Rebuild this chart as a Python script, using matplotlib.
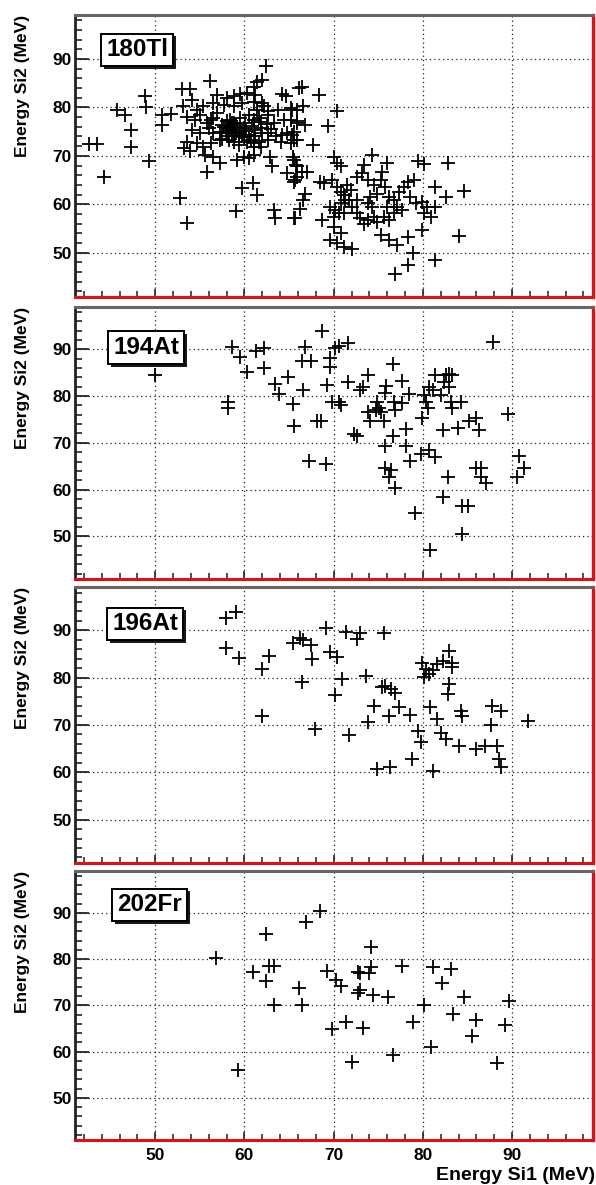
import matplotlib
matplotlib.use("Agg")
import matplotlib.pyplot as plt
import matplotlib.patheffects as pe
import numpy as np

plt.rcParams['font.family'] = ['Liberation Sans', 'DejaVu Sans']

# ---------------- data ----------------
panel_labels = ["180Tl", "194At", "196At", "202Fr"]
x_major = [50, 60, 70, 80, 90]
y_major = [50, 60, 70, 80, 90]
x_title = "Energy Si1 (MeV)"
y_title = "Energy Si2 (MeV)"

tl180_pts = [
    (42.6,72.5),(43.5,72.5),(44.2,65.6),(45.7,79.5),(46.6,78.5),(47.3,75.4),(47.3,71.9),(48.8,82.3),
    (49.0,80.1),(49.3,68.9),(50.7,78.5),(51.8,78.6),(50.7,76.4),(52.8,61.2),(53.6,56.2),(55.8,66.7),
    (62.4,88.6),(56.1,85.4),(53.0,83.8),(53.9,83.8),(61.4,85.2),(61.1,84.2),(62.0,85.7),(66.1,84.0),
    (59.5,82.8),(60.3,83.0),(56.9,82.6),(58.0,81.9),(61.2,82.6),(64.2,82.7),(64.6,82.3),(54.1,81.6),(58.8,82.3),
    (53.1,80.3),(54.7,79.5),(55.4,80.2),(56.5,80.9),(57.7,80.5),(58.8,80.2),(59.7,80.9),(61.1,81.2),(62.2,80.2),
    (62.6,79.2),(63.7,79.5),(65.2,79.8),(65.9,79.5),
    (53.5,78.1),(54.5,77.4),(55.0,78.5),(55.8,76.7),(56.5,77.8),(57.5,76.4),(58.0,77.1),(58.6,76.7),(59.2,76.0),
    (60.1,76.7),(61.1,77.4),(61.6,77.8),(62.6,78.5),(63.3,76.7),(64.4,77.4),(65.2,77.4),(65.9,76.7),
    (54.1,75.4),(55.0,74.7),(56.0,75.7),(56.5,74.7),(57.3,75.0),(58.0,76.0),(58.4,75.4),(59.0,74.7),(59.5,75.0),
    (60.5,74.3),(61.1,75.4),(61.8,75.7),(62.6,74.7),(63.5,74.0),(64.2,74.3),(64.8,74.7),(65.6,75.0),
    (53.5,72.9),(54.7,72.6),(55.4,71.9),(56.2,72.6),(57.3,73.3),(58.8,72.9),(59.4,72.3),(60.3,72.9),(61.1,72.6),
    (61.8,71.9),(62.6,73.3),(64.1,72.9),(65.2,72.6),(65.9,73.3),(53.2,71.6),
    (53.9,70.9),(55.6,70.2),(56.5,69.8),(57.3,68.5),(59.2,69.1),(59.9,69.8),(60.5,69.5),(61.1,70.2),(62.9,69.8),
    (63.1,67.8),(65.4,69.8),(65.8,68.1),
    (64.8,66.4),(65.6,64.7),(65.9,65.7),(59.7,63.3),(60.9,64.3),(61.4,61.9),(59.1,58.6),(63.3,58.8),(63.4,57.1),(65.6,57.1),
    (57.7,76.0),(58.4,77.4),(58.8,75.0),(59.4,74.0),(59.9,75.7),(60.7,73.3),(61.2,74.0),(62.0,74.7),(58.8,76.7),
    (58.0,74.0),(59.5,77.8),(61.4,79.5),(62.0,80.9),(56.9,78.8),(56.2,77.4),(60.5,78.5),(61.1,71.9),(61.6,72.9),
    (57.9,74.8),(58.2,75.7),(58.6,74.2),(59.1,76.3),(59.7,74.4),(60.2,75.2),(60.8,76.1),(57.5,73.5),(60.0,73.8),
    (58.3,73.2),(62.5,76.5),(63.0,75.5),(61.9,76.9),
    (65.3,79.5),(66.6,80.2),(66.4,84.2),(65.9,77.1),(66.8,76.4),(65.3,74.3),(65.5,73.3),(67.7,72.3),(65.5,69.1),
    (65.9,67.8),(66.4,66.7),(67.0,66.7),(65.7,65.0),(66.8,62.2),(66.6,60.9),(65.7,57.1),(66.2,59.1),
    (68.4,82.5),(70.4,79.2),(69.4,76.1),
    (70.0,69.8),(70.4,68.5),(70.8,67.8),(68.5,64.7),(68.9,64.3),(69.8,65.0),(70.4,63.6),(70.8,62.6),(71.5,64.0),
    (71.9,62.9),(71.1,61.9),(71.7,60.9),(72.6,65.7),(73.2,66.4),(73.4,68.1),(74.3,70.2),(73.9,65.0),(74.5,64.0),
    (74.1,61.5),(73.8,60.2),(74.3,59.5),(74.9,62.2),(75.4,66.7),(76.0,68.5),(75.3,65.0),(75.8,63.6),(76.2,61.5),
    (76.8,60.9),(77.3,62.6),(77.9,63.6),(78.3,64.7),(79.0,65.0),(78.6,61.5),(79.2,60.2),(79.9,60.5),(80.5,59.5),
    (81.3,59.5),(80.1,58.1),(80.9,57.4),(79.9,54.6),
    (69.6,59.5),(70.2,58.8),(70.8,60.2),(70.0,57.4),(70.6,58.1),(71.1,58.1),(72.6,58.1),(73.0,57.1),(73.4,56.0),
    (73.9,56.7),(74.5,57.4),(74.9,56.4),(75.6,57.4),(76.2,56.7),(76.8,58.1),(77.1,59.5),(77.7,58.8),(76.0,59.5),
    (72.6,60.9),(72.1,59.5),(71.3,60.9),(70.0,55.3),(70.8,54.0),(69.6,52.6),(70.4,51.9),(71.1,51.2),(72.1,50.8),
    (75.3,53.6),(76.2,52.6),(77.1,51.5),(78.3,53.3),(79.4,68.9),(80.1,68.3),(82.8,68.6),(81.4,63.5),(82.6,61.5),
    (84.6,62.8),(84.1,53.5),(81.4,48.4),(78.9,50.0),(78.3,47.4),(76.9,45.5),(68.7,56.7),
]
tl180_x = [p[0] for p in tl180_pts]
tl180_y = [p[1] for p in tl180_pts]

at194_pts = [
    (50.0,84.4),(58.1,78.8),(58.1,77.4),(58.6,90.4),(59.5,88.4),(60.3,85.2),(61.3,89.6),(62.2,90.2),(62.2,86.1),
    (63.4,82.5),(63.9,80.4),(64.9,84.0),(65.4,78.3),(65.5,73.6),
    (68.7,93.9),(66.8,90.4),(70.2,90.2),(70.6,90.6),(71.6,91.3),(66.4,87.4),(67.4,87.4),(69.6,88.1),(69.6,86.3),
    (66.6,81.3),(69.2,82.4),(71.6,83.0),(73.9,84.4),(73.3,82.0),(73.0,81.3),(75.9,82.2),(75.8,80.6),(77.7,83.2),
    (76.6,86.8),(78.4,80.4),(69.8,78.8),(70.6,78.8),(70.8,78.1),(74.9,78.7),(75.1,77.4),(75.3,76.7),
    (74.7,77.0),(73.8,76.5),(74.1,74.6),(75.6,74.6),(76.8,78.8),(76.9,77.0),(77.7,78.5),(68.1,74.7),(68.6,74.6),
    (72.3,71.9),(72.6,71.4),(76.6,71.4),(75.8,69.4),(78.1,72.9),(78.1,69.4),(79.9,75.4),(80.3,78.8),(80.6,77.4),
    (80.1,80.2),(80.7,82.0),(81.1,81.3),(81.3,84.5),(82.6,84.5),(82.9,84.7),(83.3,84.5),(82.4,83.0),(82.9,82.0),
    (82.0,80.2),(83.1,78.8),(83.3,77.4),(84.3,78.8),(82.2,72.8),(83.9,73.1),(85.2,74.6),(86.0,75.3),(86.3,72.8),
    (89.5,76.1),(87.9,91.5),(67.2,66.2),(69.1,65.4),(75.8,64.6),(76.4,64.2),(76.2,62.8),(76.9,60.3),(78.6,66.2),
    (79.8,67.6),(80.7,68.5),(81.4,66.9),(82.8,62.8),(85.9,64.6),(86.5,64.6),(86.5,62.8),(87.1,61.4),(90.8,67.1),
    (91.3,64.6),(90.5,62.8),(82.3,58.5),(79.1,55.0),(84.4,56.5),(85.0,56.5),(84.4,50.6),(80.8,47.0),
]
at194_x = [p[0] for p in at194_pts]
at194_y = [p[1] for p in at194_pts]

at196_pts = [
    (57.9,92.7),(59.0,93.8),(57.9,86.2),(59.4,84.2),(62.0,81.8),(62.8,84.6),(62.0,71.9),(65.4,87.4),
    (66.2,88.4),(66.6,87.9),(67.4,87.0),(67.6,83.9),(66.5,79.1),(67.9,69.2),(69.1,90.5),(69.6,85.5),(70.4,84.4),
    (70.2,76.3),(70.9,79.8),(71.4,89.7),(72.6,88.1),(73.0,89.4),(71.7,67.9),(75.6,89.4),(73.6,80.4),(73.8,70.6),
    (74.5,74.0),(75.4,78.0),(75.8,78.2),(76.4,77.7),(76.9,76.8),(76.2,71.8),(77.3,73.9),(78.5,72.1),(74.9,60.7),
    (76.3,61.1),(78.8,62.8),(79.5,68.7),(79.8,66.4),(79.9,83.0),(80.3,81.8),(80.7,80.8),(80.1,80.1),(81.1,81.6),
    (81.6,82.9),(82.3,83.6),(82.9,85.6),(83.3,83.2),(83.3,82.3),(82.9,78.6),(82.8,76.6),(80.8,73.9),(81.6,71.2),
    (82.0,68.3),(82.6,67.1),(84.3,73.0),(84.4,71.9),(81.1,60.2),(84.0,65.6),(85.9,64.9),(87.0,65.6),(88.3,65.6),
    (87.7,74.0),(88.8,73.0),(87.6,69.9),(88.5,62.8),(88.7,61.2),(91.8,70.8),
]
at196_x = [p[0] for p in at196_pts]
at196_y = [p[1] for p in at196_pts]

fr202_pts = [
    (56.8,80.3),(59.3,56.0),(60.9,77.2),(62.4,85.5),(62.4,75.2),(62.7,78.4),(63.3,78.6),(63.3,70.0),
    (66.9,88.1),(68.5,90.4),(66.1,73.7),(66.5,70.1),(69.3,77.4),(70.3,75.5),(70.8,74.1),(69.8,64.8),(71.4,66.3),
    (72.0,57.7),(72.7,77.3),(72.9,77.0),(72.7,72.6),(73.0,73.3),(74.2,82.6),(74.2,78.2),(74.0,77.0),(73.3,65.1),
    (74.4,72.3),(76.1,71.8),(76.7,59.2),(77.6,78.5),(78.9,66.4),(80.1,70.0),(80.9,61.1),(81.1,78.2),(82.1,74.9),
    (83.2,77.8),(83.4,68.2),(84.6,71.8),(85.5,63.4),(85.9,66.8),(88.3,57.5),(89.2,65.8),(89.6,70.9),
]
fr202_x = [p[0] for p in fr202_pts]
fr202_y = [p[1] for p in fr202_pts]

series_x = [tl180_x, at194_x, at196_x, fr202_x]
series_y = [tl180_y, at194_y, at196_y, fr202_y]

# ---------------- layout ----------------
W, H = 596, 1185
fig = plt.figure(figsize=(W / 100, H / 100), dpi=100)

left_px, right_px = 75, 593.3
panels_px = [(15, 296.7), (306.7, 579), (587.3, 862.7), (870.7, 1140)]
label_pos = [(0.120, 0.876), (0.137, 0.850), (0.135, 0.867), (0.144, 0.873)]

for i, (top, bot) in enumerate(panels_px):
    ax = fig.add_axes([left_px / W, 1 - bot / H, (right_px - left_px) / W, (bot - top) / H])
    ax.plot(series_x[i], series_y[i], ls='none', marker='+', ms=9.5, mew=1.3, color='black', zorder=2)
    ax.set_xlim(41.0, 99.1)
    ax.set_ylim(40.9, 99.1)
    ax.set_xticks(x_major)
    ax.set_xticks(np.arange(42, 99, 2), minor=True)
    ax.set_yticks(y_major)
    ax.set_yticks(np.arange(42, 99, 2), minor=True)
    ax.grid(True, which='major', ls=(0, (1, 2.5)), lw=0.9, color='#222222')
    ax.tick_params(axis='y', which='major', direction='in', length=10, width=1.3, color='#222222',
                   labelsize=12.5, pad=2.5)
    ax.tick_params(axis='y', which='minor', direction='in', length=5, width=1.2, color='#222222')
    ax.tick_params(axis='x', which='major', direction='in', length=6, width=1.2, color='#222222',
                   labelsize=12.5, pad=6, labelbottom=(i == 3))
    ax.tick_params(axis='x', which='minor', direction='in', length=4, width=1.1, color='#222222')
    for lab in ax.get_yticklabels() + ax.get_xticklabels():
        lab.set_fontweight('bold')
    ax.spines['left'].set_color('#222222')
    ax.spines['left'].set_linewidth(2.0)
    ax.spines['top'].set_color('#666666')
    ax.spines['top'].set_linewidth(2.2)
    ax.spines['right'].set_color('#e01010')
    ax.spines['right'].set_linewidth(2.4)
    ax.spines['bottom'].set_color('#e01010')
    ax.spines['bottom'].set_linewidth(2.2)

    lx, ly = label_pos[i]
    t = ax.text(lx, ly, panel_labels[i], transform=ax.transAxes, fontsize=17.5, fontweight='bold',
                color='black', ha='center', va='center', zorder=5,
                bbox=dict(boxstyle='square,pad=0.2', fc='white', ec='black', lw=1.4))
    t.get_bbox_patch().set_path_effects([
        pe.SimplePatchShadow(offset=(2, -2), shadow_rgbFace='black', alpha=0.9),
        pe.Normal()])

    fig.text(23 / W, 1 - top / H, y_title, rotation=90, ha='center', va='top',
             fontsize=12.5, fontweight='bold')

fig.text(0.998, 1 - 1176 / H, x_title, ha='right', va='center', fontsize=14, fontweight='bold')

fig.savefig("out.png", dpi=100)
